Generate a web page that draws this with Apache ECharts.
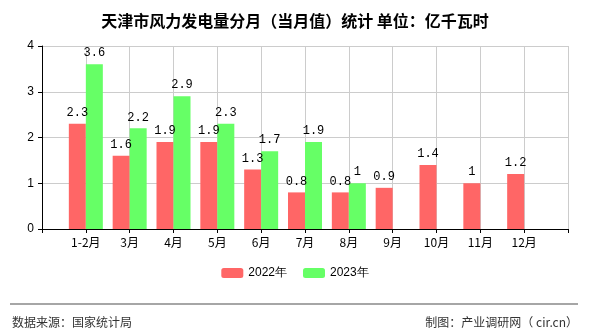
<!DOCTYPE html>
<html>
<head>
<meta charset="utf-8">
<style>
  html, body { margin: 0; padding: 0; background: #fff; }
  #chart { width: 590px; height: 330px; }
</style>
<script src="https://cdn.jsdelivr.net/npm/echarts@6/dist/echarts.min.js"></script>
</head>
<body>
<div id="chart"></div>
<script>
// Monthly wind power generation in Tianjin (100 million kWh)
const months = ['', '1-2月', '3月', '4月', '5月', '6月', '7月', '8月', '9月', '10月', '11月', '12月', ''];
const values2022 = [null, 2.3, 1.6, 1.9, 1.9, 1.3, 0.8, 0.8, 0.9, 1.4, 1, 1.2, null];
const values2023 = [null, 3.6, 2.2, 2.9, 2.3, 1.7, 1.9, 1, null, null, null, null, null];
const seriesNames = ['2022年', '2023年'];
const yTicks = { min: 0, max: 4, interval: 1 };

const chart = echarts.init(document.getElementById('chart'));

const labelStyle = {
  show: true,
  position: 'top',
  distance: 5,
  color: '#000',
  fontSize: 12,
  fontFamily: 'Liberation Mono, DejaVu Sans Mono, monospace'
};

chart.setOption({
  animation: false,
  title: {
    text: '天津市风力发电量分月（当月值）统计 单位：亿千瓦时',
    left: 'center',
    top: 8,
    textStyle: {
      fontSize: 16,
      fontWeight: 'bold',
      color: '#000',
      fontFamily: 'Noto Sans CJK SC, sans-serif'
    }
  },
  grid: { left: 42, right: 22, top: 46, bottom: 101 },
  legend: {
    bottom: 46,
    left: 'center',
    itemWidth: 22,
    itemHeight: 10,
    itemGap: 16,
    textStyle: { fontSize: 12, color: '#000', fontFamily: 'Liberation Sans, Arial, sans-serif' },
    data: seriesNames
  },
  xAxis: {
    type: 'category',
    data: months,
    boundaryGap: false,
    axisLine: { lineStyle: { color: '#000', width: 1 } },
    axisTick: { show: true, interval: 0, length: 4, lineStyle: { color: '#000' } },
    axisLabel: {
      interval: 0,
      color: '#000',
      fontSize: 12,
      margin: 7,
      fontFamily: 'Noto Sans CJK SC, sans-serif'
    },
    splitLine: { show: true, interval: 0, lineStyle: { color: '#cccccc', width: 1 } }
  },
  yAxis: {
    type: 'value',
    min: yTicks.min,
    max: yTicks.max,
    interval: yTicks.interval,
    axisLine: { show: true, lineStyle: { color: '#000', width: 1 } },
    axisTick: { show: true, length: 4, lineStyle: { color: '#000' } },
    axisLabel: { color: '#000', fontSize: 12, margin: 8, fontFamily: 'Liberation Sans, Arial, sans-serif' },
    splitLine: { show: true, lineStyle: { color: '#cccccc', width: 1 } }
  },
  series: [
    {
      name: seriesNames[0],
      type: 'bar',
      data: values2022,
      barWidth: 17,
      barGap: '0%',
      itemStyle: { color: '#ff6666' },
      label: labelStyle
    },
    {
      name: seriesNames[1],
      type: 'bar',
      data: values2023,
      barWidth: 17,
      barGap: '0%',
      itemStyle: { color: '#66ff66' },
      label: labelStyle
    }
  ],
  graphic: [
    {
      type: 'line',
      shape: { x1: 10, y1: 304, x2: 578, y2: 304 },
      style: { stroke: '#888', lineWidth: 1.5 }
    },
    {
      type: 'text',
      left: 12,
      top: 316,
      style: {
        text: '数据来源：国家统计局',
        fill: '#333',
        fontSize: 12,
        fontFamily: 'Noto Sans CJK SC, sans-serif'
      }
    },
    {
      type: 'text',
      right: 12,
      top: 316,
      style: {
        text: '制图：产业调研网（ cir.cn）',
        fill: '#333',
        fontSize: 12,
        fontFamily: 'Noto Sans CJK SC, sans-serif'
      }
    }
  ]
});
</script>
</body>
</html>
